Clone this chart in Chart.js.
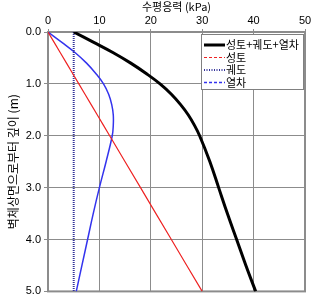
<!DOCTYPE html>
<html>
<head>
<meta charset="utf-8">
<script src="https://cdn.jsdelivr.net/npm/chart.js@4.4.0/dist/chart.umd.min.js"></script>
<style>
  html, body { margin: 0; padding: 0; background: #fff; }
  #wrap { width: 313px; height: 301px; position: relative; }
</style>
</head>
<body>
<div id="wrap"><canvas id="stressChart"></canvas></div>
<script>
// depth from top of wall (m)
const depths = [0, 0.2, 0.4, 0.6, 0.8, 1.0, 1.2, 1.4, 1.6, 1.8, 2.0, 2.5, 3.0, 3.5, 4.0, 4.5, 5.0];
// horizontal stress (kPa)
const fillStress  = [0, 1.2, 2.4, 3.6, 4.8, 6.0, 7.2, 8.4, 9.6, 10.8, 12.0, 15.0, 18.0, 21.0, 24.0, 27.0, 30.0];
const trackStress = [5, 5, 5, 5, 5, 5, 5, 5, 5, 5, 5, 5, 5, 5, 5, 5, 5];
const trainStress = [0, 2.7, 5.3, 7.5, 9.3, 10.8, 11.8, 12.4, 12.7, 12.7, 12.5, 11.3, 10.0, 8.8, 7.7, 6.6, 5.5];
const totalStress = [5, 8.9, 12.7, 16.1, 19.1, 21.8, 24.0, 25.8, 27.3, 28.5, 29.5, 31.5, 33.2, 34.9, 36.7, 38.5, 40.4];
const xTicks = [0, 10, 20, 30, 40, 50];
const yTicks = [0, 1, 2, 3, 4, 5];

const FONT = "Arial, 'Liberation Sans', 'Noto Sans CJK KR', sans-serif";

function toPoints(values) {
    return values.map(function(v, i) { return { x: v, y: depths[i] }; });
}

// gray frame round the plot area
const plotFrame = {
    id: 'plotFrame',
    beforeDatasetsDraw: function(chart) {
        const a = chart.chartArea;
        const ctx = chart.ctx;
        ctx.save();
        ctx.strokeStyle = '#8c8c8c';
        ctx.lineWidth = 2;
        ctx.strokeRect(a.left, a.top, a.right - a.left, a.bottom - a.top);
        ctx.restore();
    }
};

// legend box drawn inside the plot, top right
const boxLegend = {
    id: 'boxLegend',
    afterDraw: function(chart) {
        const ctx = chart.ctx;
        const left = 201, top = 34, w = 102, h = 55;
        ctx.save();
        ctx.fillStyle = '#fff';
        ctx.fillRect(left, top, w, h);
        ctx.strokeStyle = '#808080';
        ctx.lineWidth = 1;
        ctx.strokeRect(left + 0.5, top + 0.5, w, h);
        ctx.font = "11px 'Noto Sans CJK KR', sans-serif";
        ctx.textBaseline = 'middle';
        chart.data.datasets.forEach(function(ds, i) {
            const y = top + 11 + i * 12.5;
            ctx.beginPath();
            ctx.strokeStyle = ds.borderColor;
            ctx.lineWidth = ds.legendWidth;
            ctx.setLineDash(ds.legendDash);
            ctx.moveTo(left + 3, y);
            ctx.lineTo(left + 24, y);
            ctx.stroke();
            ctx.setLineDash([]);
            ctx.fillStyle = '#000';
            ctx.fillText(ds.label, left + 25, y);
        });
        ctx.restore();
    }
};

new Chart(document.getElementById('stressChart'), {
    type: 'scatter',
    data: {
        datasets: [
            {
                label: '성토+궤도+열차',
                data: toPoints(totalStress),
                borderColor: '#000000',
                borderWidth: 3,
                legendWidth: 3,
                legendDash: []
            },
            {
                label: '성토',
                data: toPoints(fillStress),
                borderColor: '#ee2222',
                borderWidth: 1.2,
                tension: 0,
                legendWidth: 1,
                legendDash: [3, 2]
            },
            {
                label: '궤도',
                data: toPoints(trackStress),
                borderColor: '#333399',
                borderWidth: 2,
                borderDash: [1, 1],
                tension: 0,
                legendWidth: 2,
                legendDash: [1, 1.5]
            },
            {
                label: '열차',
                data: toPoints(trainStress),
                borderColor: '#3333ee',
                borderWidth: 1.5,
                legendWidth: 1.5,
                legendDash: [3, 2]
            }
        ]
    },
    options: {
        responsive: true,
        maintainAspectRatio: false,
        animation: false,
        showLine: true,
        layout: { padding: { left: 0, right: 8, top: 0, bottom: 4 } },
        elements: {
            point: { radius: 0 },
            line: { tension: 0.4 }
        },
        plugins: {
            legend: { display: false },
            tooltip: { enabled: false }
        },
        scales: {
            x: {
                type: 'linear',
                position: 'top',
                min: 0,
                max: 50,
                afterBuildTicks: function(scale) {
                    scale.ticks = xTicks.map(function(v) { return { value: v }; });
                },
                afterFit: function(scale) { scale.height = 32; },
                grid: { color: '#8c8c8c', lineWidth: 1, drawTicks: true, tickLength: 3 },
                border: { color: '#8c8c8c', width: 2 },
                ticks: { color: '#000', font: { family: FONT, size: 11 }, padding: 1, maxRotation: 0 },
                title: {
                    display: true,
                    text: '수평응력 (kPa)',
                    color: '#000',
                    font: { family: "'Noto Sans CJK KR', sans-serif", size: 11 },
                    padding: { top: 0, bottom: 1 }
                }
            },
            y: {
                type: 'linear',
                reverse: true,
                min: 0,
                max: 5,
                afterBuildTicks: function(scale) {
                    scale.ticks = yTicks.map(function(v) { return { value: v }; });
                },
                afterFit: function(scale) { scale.width = 48; },
                grid: { color: '#8c8c8c', lineWidth: 1, drawTicks: true, tickLength: 4 },
                border: { color: '#8c8c8c', width: 2 },
                ticks: {
                    color: '#000',
                    font: { family: FONT, size: 11 },
                    padding: 3,
                    callback: function(value) { return value.toFixed(1); }
                },
                title: {
                    display: true,
                    text: '벽체상면으로부터 깊이 (m)',
                    color: '#000',
                    font: { family: "'Noto Sans CJK KR', sans-serif", size: 12 },
                    padding: { top: 6, bottom: 0 }
                }
            }
        }
    },
    plugins: [plotFrame, boxLegend]
});
</script>
</body>
</html>
